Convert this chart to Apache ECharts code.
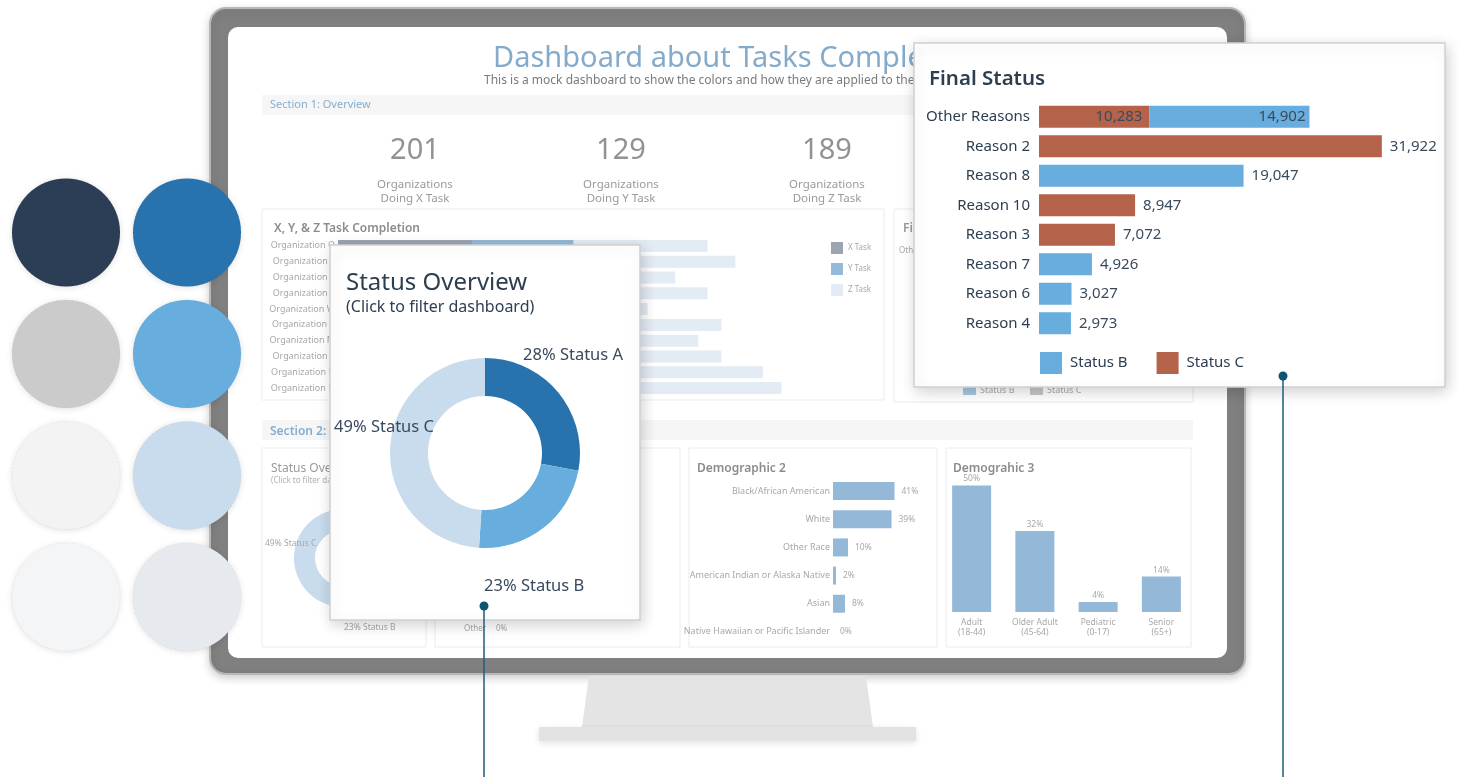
<!DOCTYPE html>
<html lang="en">
<head>
<meta charset="UTF-8">
<title>Dashboard colours mockup</title>
<style>
  html, body { margin: 0; padding: 0; background: #fff; }
  #main { width: 1458px; height: 777px; }
</style>
</head>
<body>
<div id="main"></div>
<script src="https://cdn.jsdelivr.net/npm/echarts@6/dist/echarts.min.js"></script>
<script>
  // ---- data ----
  const swatchLeft = ['#2b3e55', '#cbcbcb', '#f3f3f4', '#f4f5f7'];
  const swatchRight = ['#2873ae', '#67addd', '#c8dced', '#e6e9ee'];

  const kpiValues = [201, 129, 189];
  const kpiLabels = ['Doing X Task', 'Doing Y Task', 'Doing Z Task'];

  const orgNames = ['Organization Q', 'Organization S', 'Organization E', 'Organization E', 'Organization W',
    'Organization C', 'Organization M', 'Organization Y', 'Organization U', 'Organization N'];
  const taskX = [29, 31, 26, 29, 24, 30, 28, 30, 33, 35];
  const taskY = [22, 24, 21, 22, 19, 23, 22, 23, 26, 27];
  const taskZ = [29, 31, 26, 29, 24, 30, 28, 30, 33, 34];

  const demo2Names = ['Black/African American', 'White', 'Other Race',
    'American Indian or Alaska Native', 'Asian', 'Native Hawaiian or Pacific Islander'];
  const demo2Values = [41, 39, 10, 2, 8, 0];

  const demo3Names = ['Adult (18-44)', 'Older Adult (45-64)', 'Pediatric (0-17)', 'Senior (65+)'];
  const demo3Values = [50, 32, 4, 14];

  const statusNames = ['Status A', 'Status B', 'Status C'];
  const statusPct = [28, 23, 49];

  const reasons = ['Other Reasons', 'Reason 2', 'Reason 8', 'Reason 10', 'Reason 3', 'Reason 7', 'Reason 6', 'Reason 4'];
  const finalStatusB = [14902, null, 19047, null, null, 4926, 3027, 2973];
  const finalStatusC = [10283, 31922, null, 8947, 7072, null, null, null];

  // ---- styles ----
  const FONT = "'Noto Sans', 'Open Sans', sans-serif";
  const NAVY = '#2d3e50';
  const FAINT = '#a8a8a8';
  const colB = '#67addd';
  const colC = '#b5624a';

  const chart = echarts.init(document.getElementById('main'));

  function txt(x, y, text, size, fill, opts) {
    opts = opts || {};
    const align = opts.align || 'left';
    return {
      type: 'text', x: x, y: y, z: opts.z || 2, silent: true,
      style: {
        text: text, fill: fill,
        font: (opts.weight || 'normal') + ' ' + size + 'px ' + FONT,
        align: align, textAlign: align,
        verticalAlign: 'middle', textVerticalAlign: 'middle'
      }
    };
  }
  function box(x, y, w, h, style, z, r) {
    return { type: 'rect', z: z, silent: true, shape: { x: x, y: y, width: w, height: h, r: r || 0 }, style: style };
  }

  const g = [];

  // monitor
  g.push(box(210, 8, 1035, 666, {
    fill: '#808080', stroke: '#b8b8b8', lineWidth: 2,
    shadowBlur: 8, shadowColor: 'rgba(0,0,0,0.18)', shadowOffsetY: 3
  }, 1, 16));
  g.push(box(228, 27, 999, 631, { fill: '#fff' }, 1, 10));
  g.push({ type: 'polygon', z: 1, silent: true,
    shape: { points: [[589, 676], [866, 676], [873, 727], [582, 727]] },
    style: { fill: '#e4e4e4' } });
  g.push(box(539, 727, 377, 14, {
    fill: '#e3e3e3', shadowBlur: 6, shadowColor: 'rgba(0,0,0,0.12)', shadowOffsetY: 2
  }, 1, 1));

  // colour swatches
  for (let i = 0; i < 4; i++) {
    [[66, swatchLeft[i]], [187, swatchRight[i]]].forEach(function (s) {
      g.push({ type: 'circle', z: 5, silent: true,
        shape: { cx: s[0], cy: 232.5 + i * 121.5, r: 54 },
        style: { fill: s[1], stroke: 'rgba(0,0,0,0.05)', lineWidth: 1, lineDash: [2, 2],
          shadowBlur: 6, shadowColor: 'rgba(0,0,0,0.12)', shadowOffsetY: 1 } });
    });
  }

  // dashboard header
  g.push(txt(493, 59, 'Dashboard about Tasks Completion', 29, '#84abcc'));
  g.push(txt(484, 81, 'This is a mock dashboard to show the colors and how they are applied to the charts', 12, '#7a7a7a'));
  g.push(box(262, 95, 931, 20, { fill: '#f6f6f6' }, 2));
  g.push(txt(270, 105, 'Section 1: Overview', 11, '#86aed0'));
  g.push(box(262, 420, 931, 20, { fill: '#f6f6f6' }, 2));
  g.push(txt(270, 432, 'Section 2: Demographics', 12, '#86aed0', { weight: 600 }));

  // KPIs
  [415, 621, 827].forEach(function (cx, i) {
    g.push(txt(cx, 151, String(kpiValues[i]), 29, '#929292', { align: 'center' }));
    g.push(txt(cx, 185, 'Organizations', 11.5, '#9a9a9a', { align: 'center' }));
    g.push(txt(cx, 199, kpiLabels[i], 11.5, '#9a9a9a', { align: 'center' }));
  });

  // background panels
  const panelStyle = { fill: '#fff', stroke: '#ebebeb', lineWidth: 1 };
  g.push(box(262, 209, 622, 191, panelStyle, 2));
  g.push(box(894, 209, 299, 193, panelStyle, 2));
  g.push(box(262, 448, 164, 199, panelStyle, 2));
  g.push(box(435, 448, 245, 199, panelStyle, 2));
  g.push(box(689, 448, 248, 199, panelStyle, 2));
  g.push(box(946, 448, 245, 199, panelStyle, 2));
  g.push(txt(274, 229, 'X, Y, & Z Task Completion', 12, '#8c8c8c', { weight: 600 }));
  g.push(txt(903, 229, 'Final Status', 12, '#9a9a9a', { weight: 600 }));
  g.push(txt(899, 251, 'Other Reasons', 8, FAINT));
  g.push(box(963, 384, 13, 11, { fill: '#a8c8e4' }, 2));
  g.push(txt(980, 390, 'Status B', 9, FAINT));
  g.push(box(1030, 384, 13, 11, { fill: '#c8c8c8' }, 2));
  g.push(txt(1047, 390, 'Status C', 9, FAINT));
  g.push(txt(271, 469, 'Status Overview', 12, '#9a9a9a'));
  g.push(txt(271, 481, '(Click to filter dashboard)', 8, '#b0b0b0'));
  g.push(txt(486, 629, 'Other', 8, FAINT, { align: 'right' }));
  g.push(txt(496, 629, '0%', 8, FAINT));
  g.push(txt(697, 469, 'Demographic 2', 12, '#8c8c8c', { weight: 600 }));
  g.push(txt(953, 469, 'Demograhic 3', 12, '#8c8c8c', { weight: 600 }));

  // popups
  const popStyle = { fill: '#fff', stroke: '#cfcfcf', lineWidth: 1.5,
    shadowBlur: 14, shadowColor: 'rgba(0,0,0,0.18)', shadowOffsetX: 2, shadowOffsetY: 4 };
  g.push(box(330, 245, 310, 375, popStyle, 10));
  g.push(box(914, 43, 531, 344, popStyle, 10));
  g.push(txt(346, 283, 'Status Overview', 24, NAVY, { z: 23 }));
  g.push(txt(346, 307, '(Click to filter dashboard)', 16, NAVY, { z: 23 }));
  g.push(txt(929, 79, 'Final Status', 20.5, NAVY, { z: 23, weight: 600 }));

  // connectors
  [[484, 606], [1283, 376]].forEach(function (p) {
    g.push({ type: 'line', z: 30, silent: true,
      shape: { x1: p[0], y1: p[1], x2: p[0], y2: 777 },
      style: { stroke: '#215d7a', lineWidth: 1.5 } });
    g.push({ type: 'circle', z: 31, silent: true,
      shape: { cx: p[0], cy: p[1], r: 4.5 }, style: { fill: '#0f5572' } });
  });

  const mainPieLabelPos = [[523, 355], [484, 586], [334, 427]];
  const miniPieLabelPos = [[400, 470], [344, 628], [265, 544]];

  const hiddenAxis = { show: false };
  const option = {
    animation: false,
    backgroundColor: '#fff',
    textStyle: { fontFamily: FONT },
    graphic: { elements: g },
    legend: [
      { data: ['X Task', 'Y Task', 'Z Task'], orient: 'vertical', left: 826, top: 237,
        itemWidth: 12, itemHeight: 12, itemGap: 9, icon: 'rect', selectedMode: false, z: 3,
        textStyle: { fontSize: 8, color: FAINT } },
      { data: ['Status B', 'Status C'], left: 1035, top: 347,
        itemWidth: 22, itemHeight: 22, itemGap: 29, icon: 'rect', selectedMode: false, z: 25,
        textStyle: { fontSize: 15, color: NAVY, padding: [0, 0, 0, 3] } }
    ],
    grid: [
      { left: 338, top: 238, width: 462, height: 158, outerBoundsMode: 'none' },
      { left: 833, top: 477, width: 75, height: 169, outerBoundsMode: 'none' },
      { left: 940, top: 485.5, width: 253, height: 126.5, outerBoundsMode: 'none' },
      { left: 1039, top: 102, width: 392, height: 236, outerBoundsMode: 'none' }
    ],
    xAxis: [
      Object.assign({ type: 'value', gridIndex: 0, min: 0, max: 100 }, hiddenAxis),
      Object.assign({ type: 'value', gridIndex: 1, min: 0, max: 50 }, hiddenAxis),
      { type: 'category', gridIndex: 2, data: demo3Names, z: 3,
        axisLine: { show: false }, axisTick: { show: false },
        axisLabel: { fontSize: 8.5, color: FAINT, lineHeight: 10, margin: 6, interval: 0,
          formatter: function (v) { return v.replace(' (', '\n('); } } },
      Object.assign({ type: 'value', gridIndex: 3, min: 0, max: 36500 }, hiddenAxis)
    ],
    yAxis: [
      { type: 'category', gridIndex: 0, data: orgNames, inverse: true, z: 3,
        axisLine: { show: false }, axisTick: { show: false },
        axisLabel: { fontSize: 9, color: FAINT, margin: 3 } },
      { type: 'category', gridIndex: 1, data: demo2Names, inverse: true, z: 3,
        axisLine: { show: false }, axisTick: { show: false },
        axisLabel: { fontSize: 9, color: FAINT, margin: 3, interval: 0 } },
      Object.assign({ type: 'value', gridIndex: 2, min: 0, max: 50 }, hiddenAxis),
      { type: 'category', gridIndex: 3, data: reasons, inverse: true, z: 22,
        axisLine: { show: false }, axisTick: { show: false },
        axisLabel: { fontSize: 15, color: NAVY, margin: 9 } }
    ],
    series: [
      // final status popup (first, so the legend takes its colours from here)
      { name: 'Status C', type: 'bar', xAxisIndex: 3, yAxisIndex: 3, stack: 'fs', z: 22, silent: true,
        barWidth: 22, itemStyle: { color: colC },
        label: { show: true, position: 'right', distance: 8, fontSize: 15, color: '#3a4a5e',
          formatter: function (p) { return p.value.toLocaleString('en-US'); } },
        data: finalStatusC.map(function (v, i) {
          return i === 0 ? { value: v, label: { position: 'insideRight', distance: 7 } } : v;
        }) },
      { name: 'Status B', type: 'bar', xAxisIndex: 3, yAxisIndex: 3, stack: 'fs', z: 22, silent: true,
        barWidth: 22, itemStyle: { color: colB },
        label: { show: true, position: 'right', distance: 8, fontSize: 15, color: '#3a4a5e',
          formatter: function (p) { return p.value.toLocaleString('en-US'); } },
        data: finalStatusB.map(function (v, i) {
          return i === 0 ? { value: v, label: { position: 'insideRight', distance: 4 } } : v;
        }) },
      // task completion
      { name: 'X Task', type: 'bar', xAxisIndex: 0, yAxisIndex: 0, stack: 't', z: 3, silent: true,
        barWidth: 12, itemStyle: { color: '#9ca6b1' }, data: taskX },
      { name: 'Y Task', type: 'bar', xAxisIndex: 0, yAxisIndex: 0, stack: 't', z: 3, silent: true,
        barWidth: 12, itemStyle: { color: '#95b9d8' }, data: taskY },
      { name: 'Z Task', type: 'bar', xAxisIndex: 0, yAxisIndex: 0, stack: 't', z: 3, silent: true,
        barWidth: 12, itemStyle: { color: '#e3ebf5' }, data: taskZ },
      // demographics
      { type: 'bar', xAxisIndex: 1, yAxisIndex: 1, z: 3, silent: true, barWidth: 18,
        itemStyle: { color: '#94b8d7' },
        label: { show: true, position: 'right', distance: 7, fontSize: 8.5, color: FAINT, formatter: '{c}%' },
        data: demo2Values },
      { type: 'bar', xAxisIndex: 2, yAxisIndex: 2, z: 3, silent: true, barWidth: 39,
        itemStyle: { color: '#94b8d7' },
        label: { show: true, position: 'top', distance: 2, fontSize: 8.5, color: FAINT, formatter: '{c}%' },
        data: demo3Values },
      // status overview popup donut
      { type: 'pie', center: [485, 453], radius: [57, 95], startAngle: 90, clockwise: true,
        z: 22, silent: true, emphasis: { disabled: true },
        color: ['#2873ae', '#67addd', '#c8dced'],
        label: { show: true, position: 'outside', fontSize: 16.5, color: '#3a4a5e',
          formatter: function (p) { return p.value + '% ' + p.name; } },
        labelLine: { show: false },
        labelLayout: function (p) {
          const pos = mainPieLabelPos[p.dataIndex];
          return { x: pos[0], y: pos[1], align: 'left', verticalAlign: 'middle' };
        },
        data: statusNames.map(function (n, i) { return { name: n, value: statusPct[i] }; }) },
      // faded background donut
      { type: 'pie', center: [343, 558], radius: [28, 49], startAngle: 90, clockwise: true,
        z: 3, silent: true, emphasis: { disabled: true },
        color: ['#a9c4dc', '#c2d9ec', '#e5edf5'],
        label: { show: true, position: 'outside', fontSize: 8.5, color: FAINT,
          formatter: function (p) { return p.value + '% ' + p.name; } },
        labelLine: { show: false },
        labelLayout: function (p) {
          const pos = miniPieLabelPos[p.dataIndex];
          return { x: pos[0], y: pos[1], align: 'left', verticalAlign: 'middle' };
        },
        data: statusNames.map(function (n, i) { return { name: n, value: statusPct[i] }; }) }
    ]
  };

  chart.setOption(option);
</script>
</body>
</html>
